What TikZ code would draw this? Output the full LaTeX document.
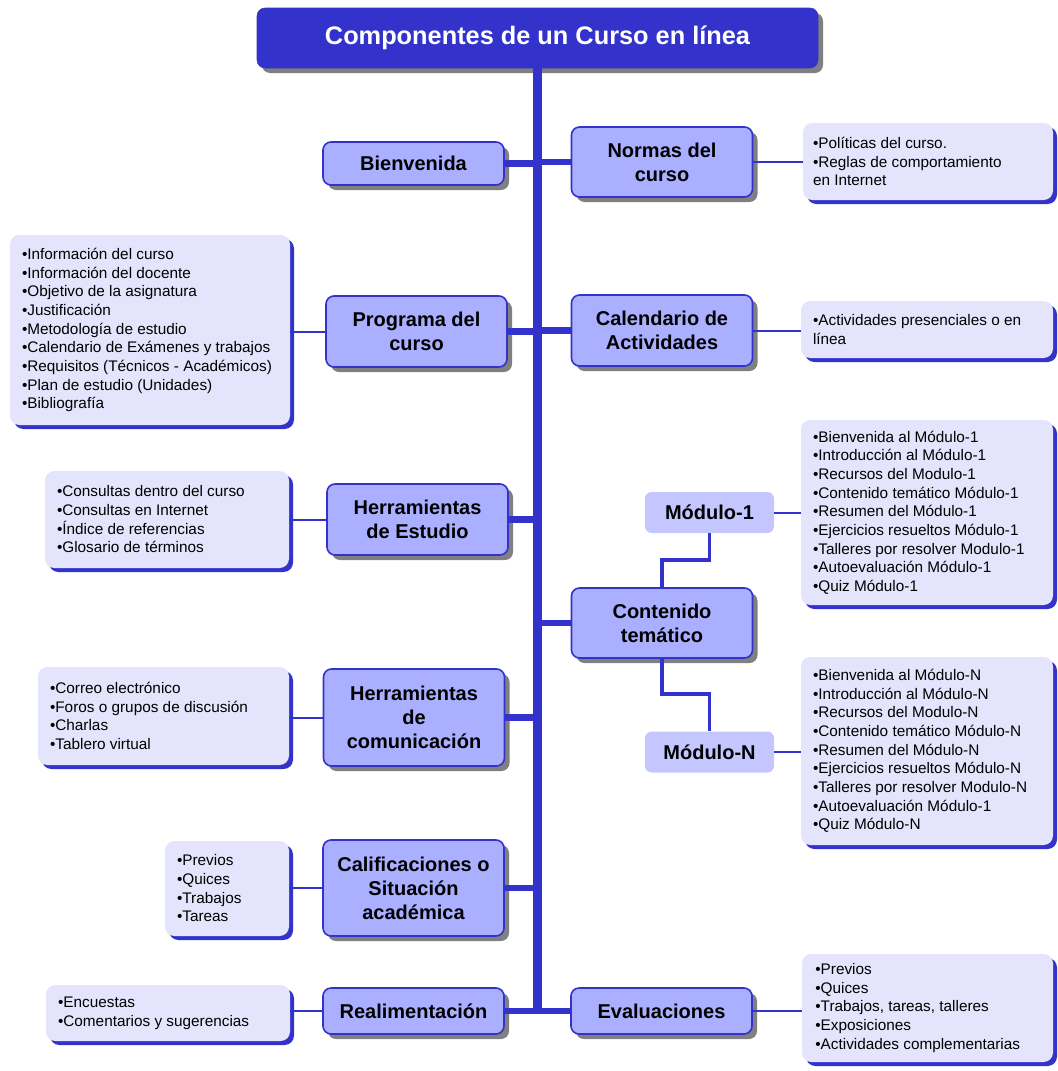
\documentclass[tikz,border=0pt]{standalone}
\usepackage{fontspec}
\setmainfont{Liberation Sans}
\usetikzlibrary{shadows}
\definecolor{dblue}{RGB}{51,51,204}
\definecolor{mainfill}{RGB}{170,175,255}
\definecolor{modfill}{RGB}{196,199,255}
\definecolor{boxfill}{RGB}{228,228,252}
\definecolor{shgray}{RGB}{128,128,128}
\begin{document}
\begin{tikzpicture}[x=0.75pt,y=-0.75pt,
  titlebox/.style={draw=dblue, fill=dblue, rounded corners=6pt, minimum width=420.75pt, minimum height=45pt, text=white, font=\fontsize{19}{22}\selectfont\bfseries, drop shadow={shadow xshift=3.75pt, shadow yshift=-3.75pt, fill=shgray, opacity=1}},
  mainbox/.style={draw=dblue, line width=1.2pt, fill=mainfill, rounded corners=6pt, minimum width=135.75pt, align=center, font=\fontsize{15}{18}\selectfont\bfseries, inner sep=2pt, drop shadow={shadow xshift=3.75pt, shadow yshift=-3.75pt, fill=shgray, opacity=1}},
  modbox/.style={fill=modfill, rounded corners=5pt, minimum width=96.75pt, minimum height=30.75pt, font=\fontsize{15}{18}\selectfont\bfseries, inner sep=2pt},
  tbox/.style={fill=boxfill, rounded corners=7pt, inner sep=0pt, drop shadow={shadow xshift=3pt, shadow yshift=-3pt, fill=dblue, opacity=1}},
  ttext/.style={anchor=west, align=left, inner sep=0pt, font=\fontsize{11.5}{14}\selectfont},
  trunk/.style={draw=dblue, line width=6.75pt},
  branch/.style={draw=dblue, line width=5pt},
  modline/.style={draw=dblue, line width=2.6pt},
  thin/.style={draw=dblue, line width=1.5pt},
]
\path[use as bounding box] (0,0) rectangle (1057,1071);

% title
\node[titlebox] (title) at (537.5,38) {Componentes de un Curso en línea};

% main nodes
\node[mainbox, minimum height=32.25pt] (bien) at (413.5,163.5) {Bienvenida};
\node[mainbox, minimum height=52.5pt] (normas) at (662,162) {Normas del\\curso};
\node[mainbox, minimum height=53.25pt] (prog) at (416.5,331.5) {Programa del\\curso};
\node[mainbox, minimum height=53.25pt] (cal) at (662,330.5) {Calendario de\\Actividades};
\node[mainbox, minimum height=53.25pt] (herrEst) at (417.5,519.5) {Herramientas\\de Estudio};
\node[mainbox, minimum height=52.5pt] (cont) at (662,623) {Contenido\\temático};
\node[mainbox, minimum height=72.75pt] (herrCom) at (414,717.5) {Herramientas\\de\\comunicación};
\node[mainbox, minimum height=72pt] (calif) at (413.5,888) {Calificaciones o\\Situación\\académica};
\node[mainbox, minimum height=34.5pt] (real) at (413.5,1011) {Realimentación};
\node[mainbox, minimum height=34.5pt] (eval) at (661.5,1011) {Evaluaciones};

% module nodes
\node[modbox] (mod1) at (709.5,512.5) {Módulo-1};
\node[modbox] (modN) at (709.5,752) {Módulo-N};

% text boxes
\node[tbox, minimum width=187.5pt, minimum height=57.75pt] (normasT) at (928,161.5) {};
\node[ttext] (normasTt) at ([xshift=7.5pt]normasT.west) {•Políticas del curso.\\•Reglas de comportamiento\\en Internet};

\node[tbox, minimum width=210pt, minimum height=142.5pt] (progT) at (150,330) {};
\node[ttext] (progTt) at ([xshift=9pt]progT.west) {•Información del curso\\•Información del docente\\•Objetivo de la asignatura\\•Justificación\\•Metodología de estudio\\•Calendario de Exámenes y trabajos\\•Requisitos (Técnicos - Académicos)\\•Plan de estudio (Unidades)\\•Bibliografía};

\node[tbox, minimum width=189pt, minimum height=42.75pt] (calT) at (927,329.5) {};
\node[ttext] (calTt) at ([xshift=9pt]calT.west) {•Actividades presenciales o en\\línea};

\node[tbox, minimum width=183pt, minimum height=72.75pt] (herrEstT) at (167,519.5) {};
\node[ttext] (herrEstTt) at ([xshift=9pt]herrEstT.west) {•Consultas dentro del curso\\•Consultas en Internet\\•Índice de referencias\\•Glosario de términos};

\node[tbox, minimum width=189pt, minimum height=138.75pt] (mod1T) at (927,512.5) {};
\node[ttext] (mod1Tt) at ([xshift=9pt]mod1T.west) {•Bienvenida al Módulo-1\\•Introducción al Módulo-1\\•Recursos del Modulo-1\\•Contenido temático Módulo-1\\•Resumen del Módulo-1\\•Ejercicios resueltos Módulo-1\\•Talleres por resolver Modulo-1\\•Autoevaluación Módulo-1\\•Quiz Módulo-1};

\node[tbox, minimum width=189pt, minimum height=141pt] (modNT) at (927,751) {};
\node[ttext] (modNTt) at ([xshift=9pt]modNT.west) {•Bienvenida al Módulo-N\\•Introducción al Módulo-N\\•Recursos del Modulo-N\\•Contenido temático Módulo-N\\•Resumen del Módulo-N\\•Ejercicios resueltos Módulo-N\\•Talleres por resolver Modulo-N\\•Autoevaluación Módulo-1\\•Quiz Módulo-N};

\node[tbox, minimum width=188.25pt, minimum height=73.5pt] (herrComT) at (163.5,716) {};
\node[ttext] (herrComTt) at ([xshift=9pt]herrComT.west) {•Correo electrónico\\•Foros o grupos de discusión\\•Charlas\\•Tablero virtual};

\node[tbox, minimum width=93pt, minimum height=71.25pt] (califT) at (227,888.5) {};
\node[ttext] (califTt) at ([xshift=9pt]califT.west) {•Previos\\•Quices\\•Trabajos\\•Tareas};

\node[tbox, minimum width=183pt, minimum height=42pt] (realT) at (168,1013) {};
\node[ttext] (realTt) at ([xshift=9pt]realT.west) {•Encuestas\\•Comentarios y sugerencias};

\node[tbox, minimum width=188.25pt, minimum height=81pt] (evalT) at (927.5,1008) {};
\node[ttext] (evalTt) at ([xshift=10pt]evalT.west) {•Previos\\•Quices\\•Trabajos, tareas, talleres\\•Exposiciones\\•Actividades complementarias};

% trunk
\draw[trunk] (title.south) -- ([yshift=-2.5pt]title.south |- real.east);

% branches
\draw[branch] (bien.east) -- (bien.east -| title.south);
\draw[branch] (normas.west) -- (normas.west -| title.south);
\draw[branch] (prog.east) -- (prog.east -| title.south);
\draw[branch] (cal.west) -- (cal.west -| title.south);
\draw[branch] (herrEst.east) -- (herrEst.east -| title.south);
\draw[branch] (cont.west) -- (cont.west -| title.south);
\draw[branch] (herrCom.east) -- (herrCom.east -| title.south);
\draw[branch] (calif.east) -- (calif.east -| title.south);
\draw[branch] (real.east) -- (eval.west);

% module links
\draw[modline] (cont.north) -- ++(0,-27) -| (mod1.south);
\draw[modline] (cont.south) -- ++(0,35) -| (modN.north);

% thin links to text boxes
\draw[thin] (normas.east) -- (normas.east -| normasT.west);
\draw[thin] (prog.west) -- (prog.west -| progT.east);
\draw[thin] (cal.east) -- (cal.east -| calT.west);
\draw[thin] (herrEst.west) -- (herrEst.west -| herrEstT.east);
\draw[thin] (mod1.east) -- (mod1.east -| mod1T.west);
\draw[thin] (modN.east) -- (modN.east -| modNT.west);
\draw[thin] (herrCom.west) -- (herrCom.west -| herrComT.east);
\draw[thin] (calif.west) -- (calif.west -| califT.east);
\draw[thin] (real.west) -- (real.west -| realT.east);
\draw[thin] (eval.east) -- (eval.east -| evalT.west);
\end{tikzpicture}
\end{document}
